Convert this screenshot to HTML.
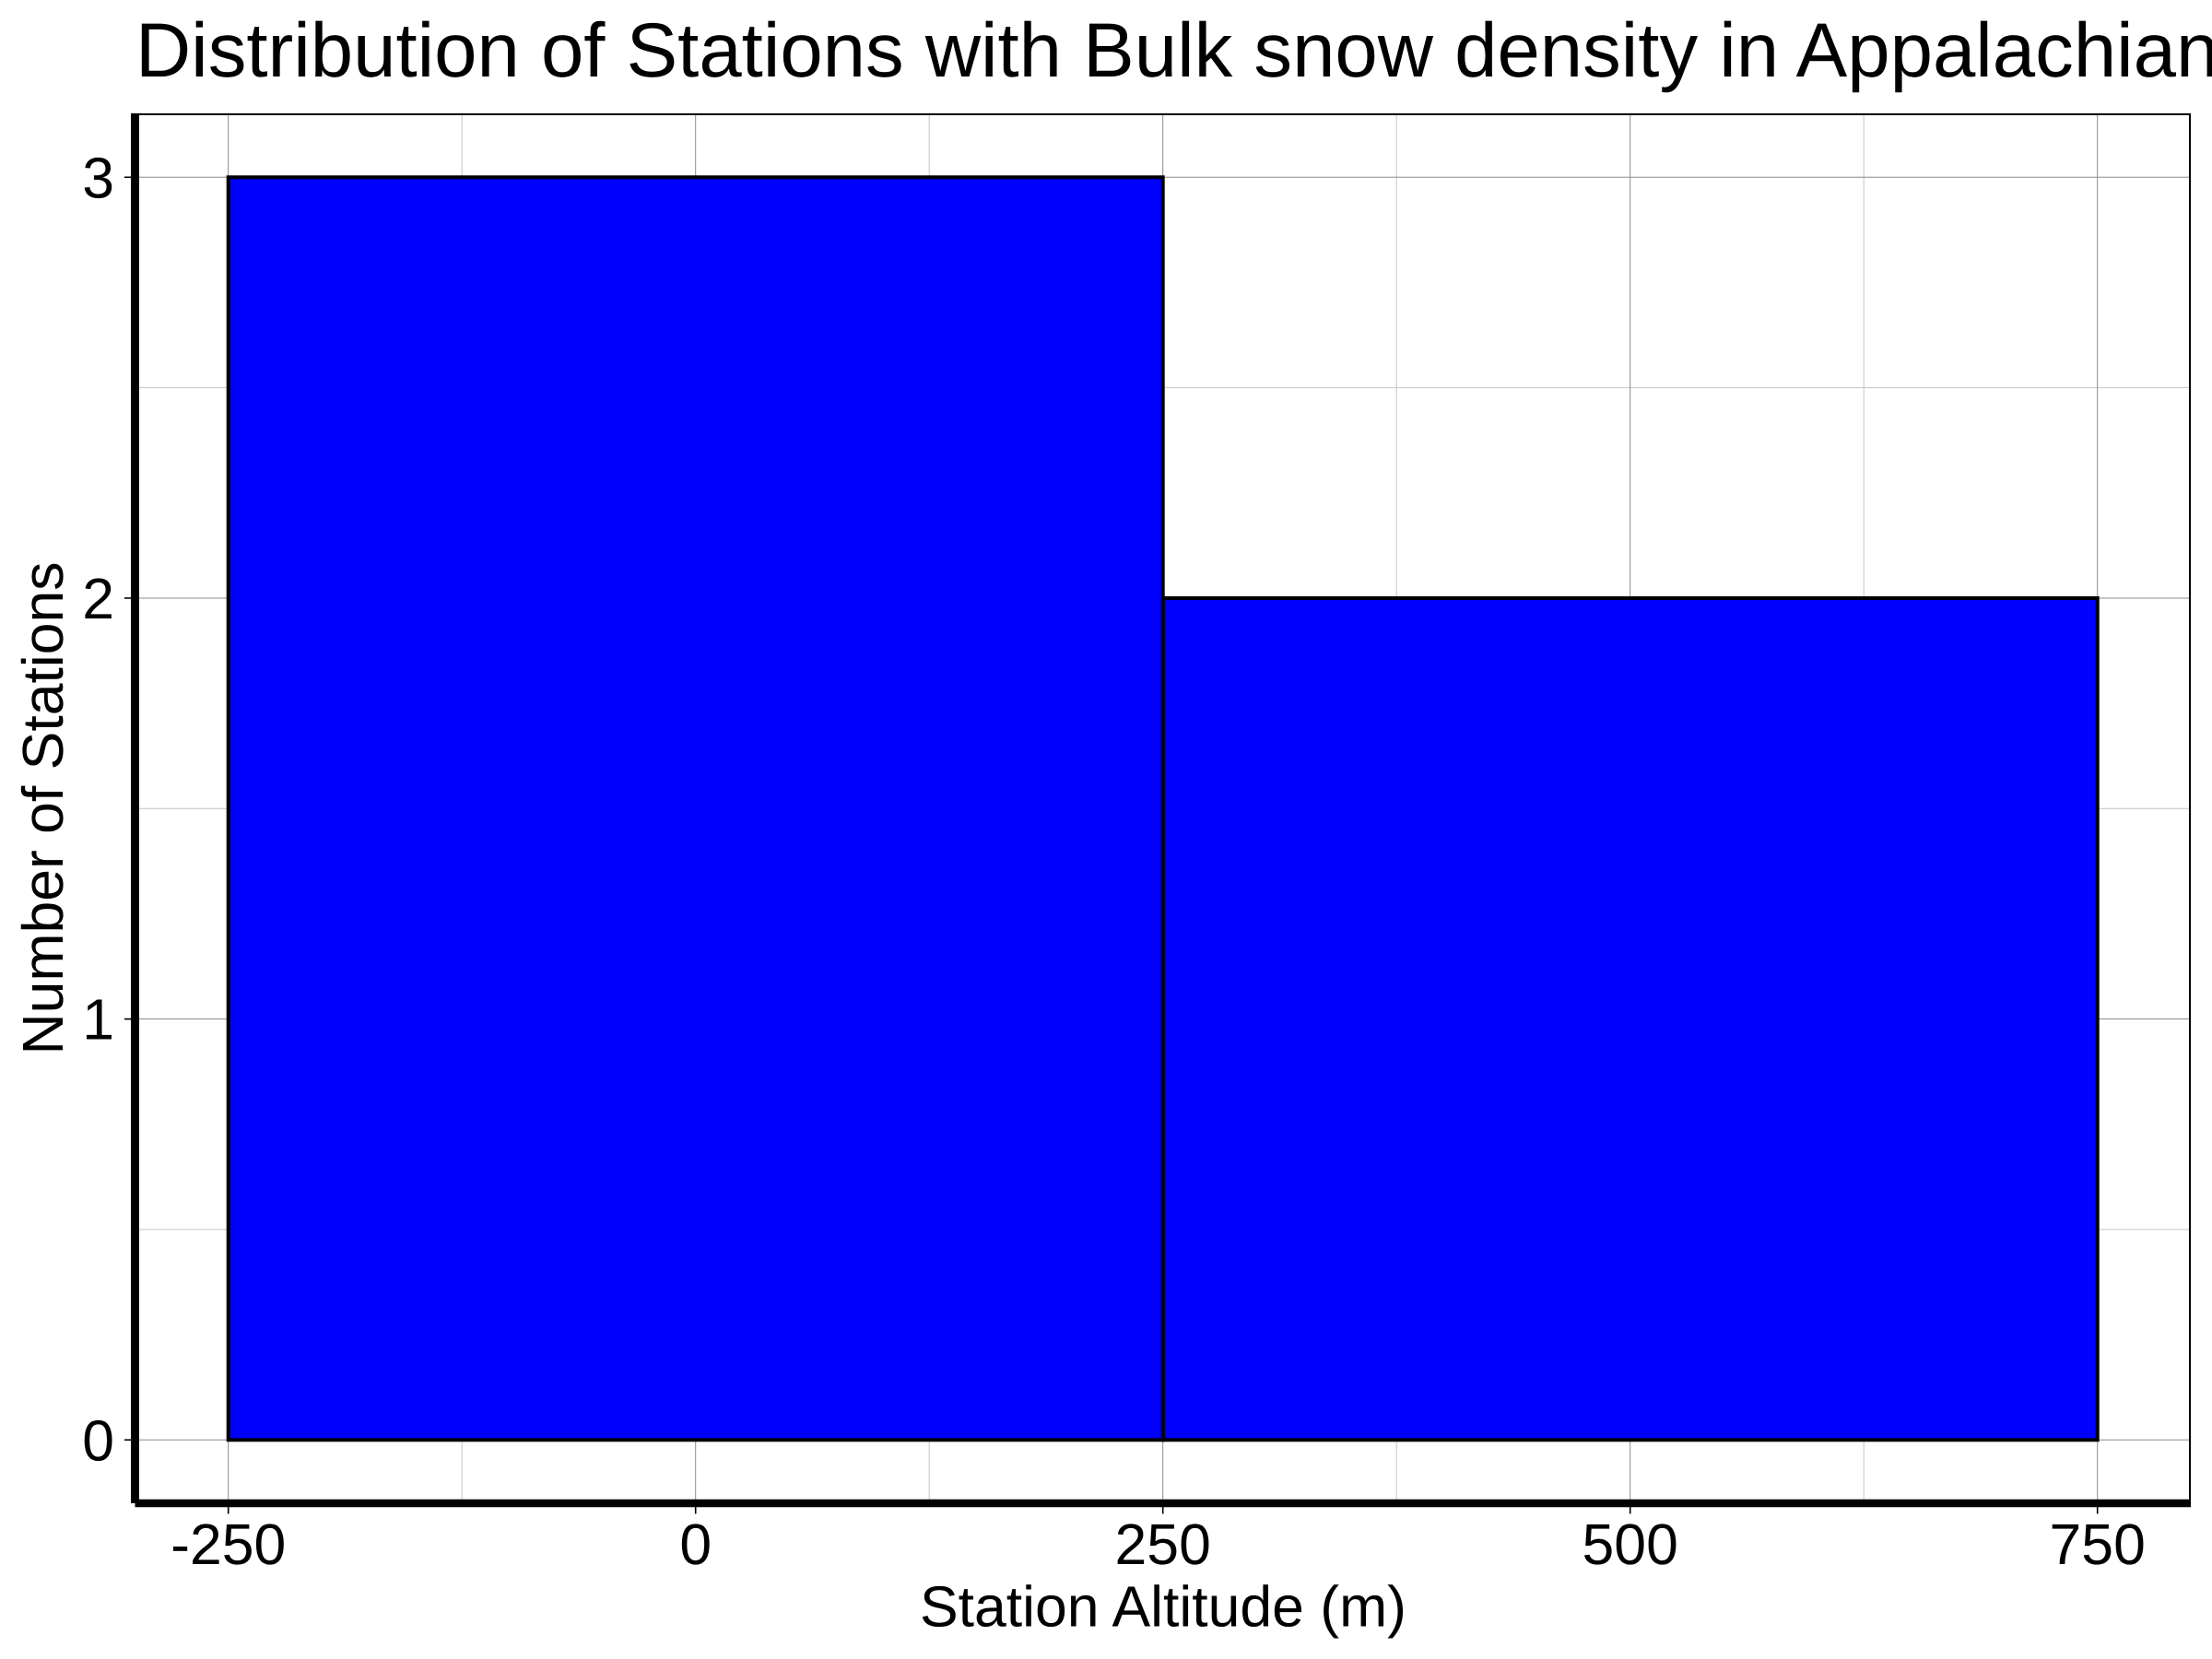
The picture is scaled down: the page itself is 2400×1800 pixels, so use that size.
<!DOCTYPE html>
<html>
<head>
<meta charset="utf-8">
<title>Distribution of Stations with Bulk snow density in Appalachian</title>
<style>
html,body{margin:0;padding:0;background:#fff;width:2400px;height:1800px;overflow:hidden}
svg{display:block}
text{font-family:"Liberation Sans",Arial,sans-serif;fill:#000;text-rendering:geometricPrecision}
</style>
</head>
<body>
<svg id="chart" xmlns="http://www.w3.org/2000/svg" width="2400" height="1800" viewBox="0 0 2400 1800">
  <rect x="0" y="0" width="2400" height="1800" fill="#fff"/>
  <g id="grid"></g>
  <g id="bars"></g>
  <g id="axes"></g>
  <text x="147" y="83" font-size="83.33">Distribution of Stations with Bulk snow density in Appalachian</text>
  <text x="1262" y="1764.5" font-size="62.5" text-anchor="middle">Station Altitude (m)</text>
  <text transform="translate(68,877) rotate(-90)" font-size="62.5" text-anchor="middle">Number of Stations</text>
</svg>
<script>
const binStarts = [-250, 250];
const binEnds = [250, 750];
const stationCounts = [3, 2];
const xMajorTicks = [-250, 0, 250, 500, 750];
const xMinorTicks = [-125, 125, 375, 625];
const yMajorTicks = [0, 1, 2, 3];
const yMinorTicks = [0.5, 1.5, 2.5];

const NS = 'http://www.w3.org/2000/svg';
const panel = { left: 151, right: 2376, top: 124, bottom: 1627 };
const xAxisFn = v => 247.7 + (v + 250) * (2275.7 - 247.7) / 1000;
const yAxisFn = v => 1562.3 - v * (1562.3 - 192.3) / 3;

function mk(tag, attrs, parent) {
  const el = document.createElementNS(NS, tag);
  for (const k in attrs) el.setAttribute(k, attrs[k]);
  parent.appendChild(el);
  return el;
}
const gGrid = document.getElementById('grid');
const gBars = document.getElementById('bars');
const gAxes = document.getElementById('axes');

xMinorTicks.forEach(v => {
  const el = mk('line', { x1: xAxisFn(v), x2: xAxisFn(v), y1: panel.top, y2: panel.bottom, stroke: '#c4c4c4', 'stroke-width': 1 }, gGrid);
  
  
});
yMinorTicks.forEach(v => {
  const el = mk('line', { x1: panel.left, x2: panel.right, y1: yAxisFn(v), y2: yAxisFn(v), stroke: '#c4c4c4', 'stroke-width': 1 }, gGrid);
  
  
});
xMajorTicks.forEach(v => {
  const el = mk('line', { x1: xAxisFn(v), x2: xAxisFn(v), y1: panel.top, y2: panel.bottom, stroke: '#8a8a8a', 'stroke-width': 1 }, gGrid);
  
  
});
yMajorTicks.forEach(v => {
  const el = mk('line', { x1: panel.left, x2: panel.right, y1: yAxisFn(v), y2: yAxisFn(v), stroke: '#8a8a8a', 'stroke-width': 1 }, gGrid);
  
  
});

stationCounts.forEach((c, i) => {
  const x0 = xAxisFn(binStarts[i]);
  const x1 = xAxisFn(binEnds[i]);
  const y0 = yAxisFn(c);
  const y1 = yAxisFn(0);
  const el = mk('rect', { x: x0, y: y0, width: x1 - x0, height: y1 - y0, fill: '#0000ff', stroke: '#000', 'stroke-width': 4 }, gBars);
  
  
});

const topBorder = mk('line', { x1: 146, x2: 2377, y1: 124, y2: 124, stroke: '#000', 'stroke-width': 2 }, gAxes);


const rightBorder = mk('line', { x1: 2376, x2: 2376, y1: 123, y2: 1631, stroke: '#000', 'stroke-width': 2 }, gAxes);


const yAxisLine = mk('line', { x1: 146.5, x2: 146.5, y1: 123, y2: 1631, stroke: '#000', 'stroke-width': 9 }, gAxes);


const xAxisLine = mk('line', { x1: 146.5, x2: 2377, y1: 1631, y2: 1631, stroke: '#000', 'stroke-width': 8.5 }, gAxes);



xMajorTicks.forEach(v => {
  const tick = mk('line', { x1: xAxisFn(v), x2: xAxisFn(v), y1: 1635, y2: 1642.5, stroke: '#000', 'stroke-width': 1.6 }, gAxes);
  
  
  const label = mk('text', { x: xAxisFn(v), y: 1697, 'font-size': 62.5, 'text-anchor': 'middle' }, gAxes);
  label.textContent = String(v);
  
  
});
yMajorTicks.forEach(v => {
  const tick = mk('line', { x1: 135, x2: 142, y1: yAxisFn(v), y2: yAxisFn(v), stroke: '#000', 'stroke-width': 1.6 }, gAxes);
  
  
  const label = mk('text', { x: 124, y: yAxisFn(v) + 22, 'font-size': 62.5, 'text-anchor': 'end' }, gAxes);
  label.textContent = String(v);
  
  
});
</script>
</body>
</html>
